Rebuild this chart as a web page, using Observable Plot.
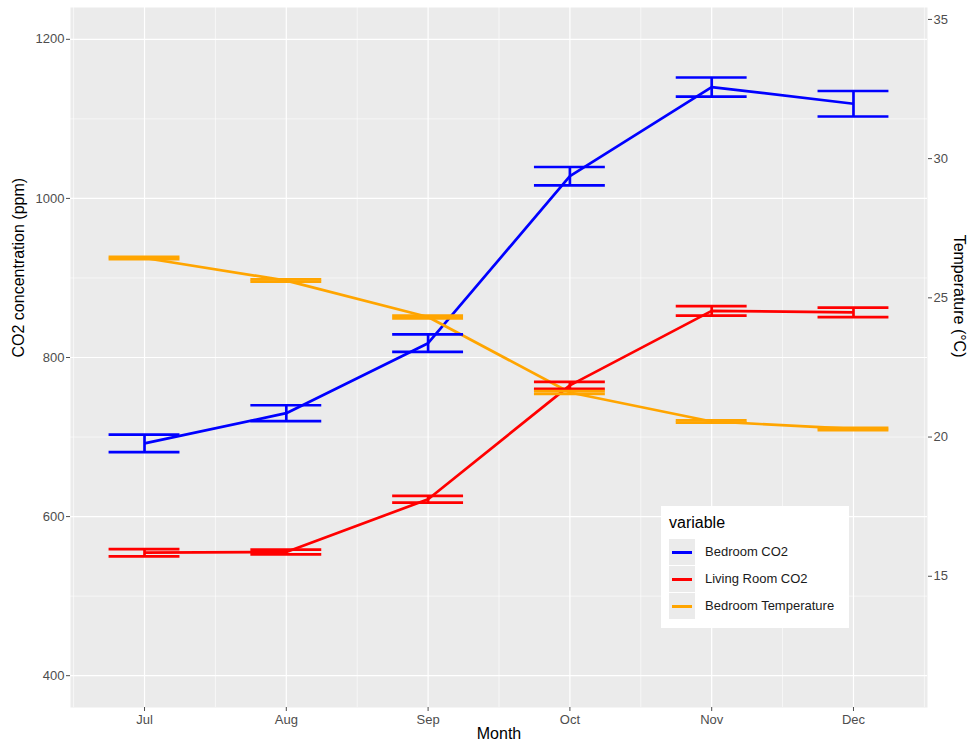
<!DOCTYPE html>
<html>
<head>
<meta charset="utf-8">
<script src="https://cdn.jsdelivr.net/npm/d3@7"></script>
<script src="https://cdn.jsdelivr.net/npm/@observablehq/plot@0.6"></script>
<style>
  html, body { margin: 0; padding: 0; background: #ffffff; }
  #wrap { position: relative; width: 968px; height: 749px; font-family: "Liberation Sans", Arial, sans-serif; }
  #legend { position: absolute; left: 661px; top: 506px; width: 188px; height: 122px; background: #ffffff; box-sizing: border-box; }
  #legend .title { position: absolute; left: 8px; top: 8px; font-size: 16px; color: #000; }
  #legend .row { position: absolute; left: 8px; height: 26px; width: 175px; }
  #legend .key { position: absolute; left: 0; top: 0; width: 26px; height: 26px; background: #EBEBEB; }
  #legend .key span { position: absolute; left: 3px; right: 3px; top: 12px; height: 3px; }
  #legend .lab { position: absolute; left: 36px; top: 5px; font-size: 13px; color: #1a1a1a; white-space: nowrap; }
</style>
</head>
<body>
<div id="wrap"></div>
<script>
// ---- data ----
const months = ["Jul", "Aug", "Sep", "Oct", "Nov", "Dec"];
const seriesNames = ["Bedroom CO2", "Living Room CO2", "Bedroom Temperature"];
const seriesColors = ["#0000FF", "#FF0000", "#FFA500"];

const bedroomCO2 = [692, 730, 818, 1028, 1140, 1119];
const bedroomCO2SE = [11, 10, 11, 11.5, 12, 16];
const livingCO2 = [554.6, 555.5, 621.8, 765, 858.6, 856.7];
const livingCO2SE = [4.6, 3, 4.2, 4.4, 5.9, 6];
const bedroomTemp = [26.43, 25.62, 24.31, 21.60, 20.56, 20.29];
const bedroomTempSE = [0.04, 0.04, 0.05, 0.05, 0.04, 0.04];

const tempScale = 35; // secondary axis: CO2 = Temperature * 35
const co2Ticks = [400, 600, 800, 1000, 1200];
const co2Minor = [500, 700, 900, 1100];
const tempTicks = [15, 20, 25, 30, 35];

// ---- build table ----
const idx = months.map((m, i) => i);
const minorX = [-0.5, 0.5, 1.5, 2.5, 3.5, 4.5, 5.5];
const rows = [];
idx.forEach(i => {
  rows.push({series: seriesNames[0], i, y: bedroomCO2[i], lo: bedroomCO2[i] - bedroomCO2SE[i], hi: bedroomCO2[i] + bedroomCO2SE[i]});
  rows.push({series: seriesNames[1], i, y: livingCO2[i], lo: livingCO2[i] - livingCO2SE[i], hi: livingCO2[i] + livingCO2SE[i]});
  rows.push({series: seriesNames[2], i, y: bedroomTemp[i] * tempScale,
             lo: (bedroomTemp[i] - bedroomTempSE[i]) * tempScale, hi: (bedroomTemp[i] + bedroomTempSE[i]) * tempScale});
});
const capHalf = 0.25;
const lw = 2.7;

const chart = Plot.plot({
  width: 968,
  height: 749,
  marginLeft: 70,
  marginRight: 41,
  marginTop: 7,
  marginBottom: 42,
  style: {fontFamily: "'Liberation Sans', Arial, sans-serif", fontSize: "13px", color: "#4D4D4D", background: "#ffffff"},
  x: {type: "linear", domain: [-0.522, 5.522]},
  y: {type: "linear", domain: [360, 1240]},
  color: {domain: seriesNames, range: seriesColors},
  marks: [
    Plot.frame({fill: "#EBEBEB", stroke: null}),
    Plot.ruleY(co2Minor, {stroke: "#ffffff", strokeWidth: 0.6}),
    Plot.ruleX(minorX, {stroke: "#ffffff", strokeWidth: 0.6}),
    Plot.ruleY(co2Ticks, {stroke: "#ffffff", strokeWidth: 1.2}),
    Plot.ruleX(idx, {stroke: "#ffffff", strokeWidth: 1.2}),
    Plot.line(rows, {x: "i", y: "y", z: "series", stroke: "series", strokeWidth: lw, strokeLinecap: "butt"}),
    Plot.ruleX(rows, {x: "i", y1: "lo", y2: "hi", stroke: "series", strokeWidth: lw}),
    Plot.ruleY(rows, {x1: d => d.i - capHalf, x2: d => d.i + capHalf, y: "lo", stroke: "series", strokeWidth: lw}),
    Plot.ruleY(rows, {x1: d => d.i - capHalf, x2: d => d.i + capHalf, y: "hi", stroke: "series", strokeWidth: lw}),
    Plot.axisX({ticks: idx, tickFormat: i => months[i], tickSize: 4, tickPadding: 3, label: null}),
    Plot.axisY({ticks: co2Ticks, tickFormat: d => String(d), tickSize: 4, tickPadding: 2, label: null}),
    Plot.axisY(tempTicks.map(t => t * tempScale), {anchor: "right", tickFormat: d => String(Math.round(d / tempScale)), tickSize: 4, tickPadding: 2, label: null}),
    Plot.text(["CO2 concentration (ppm)"], {text: d => d, frameAnchor: "left", dx: -52, rotate: -90, fontSize: 16, fill: "#000000"}),
    Plot.text(["Temperature (°C)"], {text: d => d, frameAnchor: "right", dx: 32, rotate: 90, fontSize: 16, fill: "#000000"}),
    Plot.text(["Month"], {text: d => d, frameAnchor: "bottom", dy: 31, fontSize: 16, fill: "#000000"})
  ]
});

const wrap = document.getElementById("wrap");
wrap.appendChild(chart);

// legend overlay inside the panel
const legend = document.createElement("div");
legend.id = "legend";
let html = '<div class="title">variable</div>';
seriesNames.forEach((name, k) => {
  html += '<div class="row" style="top:' + (33 + k * 27) + 'px"><div class="key"><span style="background:' + seriesColors[k] + '"></span></div><div class="lab">' + name + '</div></div>';
});
legend.innerHTML = html;
wrap.appendChild(legend);
</script>
</body>
</html>
